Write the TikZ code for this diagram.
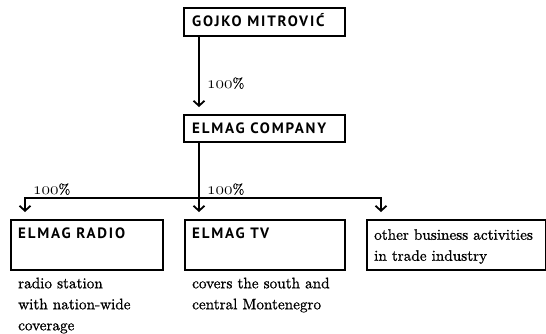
\documentclass[tikz,border=0pt]{standalone}
\usepackage{fontspec}
\usetikzlibrary{arrows.meta}
\newfontfamily\capsfont{PT Sans}[LetterSpace=12]
\newfontfamily\bodyfont{lmroman10-regular}[Extension=.otf, FakeBold=0.9]
\newcommand\osn[1]{{\fontsize{16.5}{16}\usefont{OML}{cmm}{m}{it}#1}}
\begin{document}
\begin{tikzpicture}[x=1pt,y=-1pt,
  box/.style={draw, line width=1.8pt, inner sep=0pt, anchor=north west},
  captext/.style={font=\capsfont\bfseries\fontsize{15}{17}\selectfont, anchor=base west, inner sep=0pt},
  body/.style={font=\bodyfont\fontsize{15.2}{21}\selectfont, align=left, anchor=north west, inner sep=0pt},
  lbl/.style={font=\bodyfont\fontsize{14}{16}\selectfont, anchor=base west, inner sep=0pt},
  conn/.style={line width=1.8pt},
  arr/.style={conn, -{Straight Barb[length=5pt,width=11pt]}, shorten >=7pt}]
\useasboundingbox (0,0) rectangle (546,333);
% boxes
\node[box, minimum width=161pt, minimum height=28pt] (gm) at (183,7) {};
\node[box, minimum width=161pt, minimum height=27pt] (co) at (183,114) {};
\node[box, minimum width=152pt, minimum height=50pt] (ra) at (10,219) {};
\node[box, minimum width=160pt, minimum height=50pt] (tv) at (184,219) {};
\node[box, minimum width=179pt, minimum height=50pt] (ot) at (366,219) {};
% box texts
\node[captext] (gmt) at (192,26.5) {GOJKO MITROVIĆ};
\node[captext] (cot) at (192,133) {ELMAG COMPANY};
\node[captext] (rat) at (18,238) {ELMAG RADIO};
\node[captext] (tvt) at (192,238) {ELMAG TV};
\node[body] (ott) at (374,229) {other business activities\\in trade industry};
% descriptions
\node[body] (rad) at (18,277.5) {radio station\\with nation-wide\\coverage};
\node[body] (tvd) at (192,277.5) {covers the south and\\central Montenegro};
% connectors
\coordinate (j) at ([xshift=16pt]co.south west |- 0,198);
\draw[arr] ([xshift=16pt]gm.south west) -- ([xshift=16pt]co.north west);
\draw[conn] ([xshift=16pt]co.south west) -- (j);
\draw[arr] (j) -- ([xshift=15pt]tv.north west);
\draw[arr] (j) -| ([xshift=15pt]ra.north west);
\draw[arr] (j) -| ([xshift=15pt]ot.north west);
% labels
\node[lbl] (p1) at (207,88) {\osn{100}\%};
\node[lbl] (p2) at (33,194) {\osn{100}\%};
\node[lbl] (p3) at (207,194) {\osn{100}\%};
\end{tikzpicture}
\end{document}
